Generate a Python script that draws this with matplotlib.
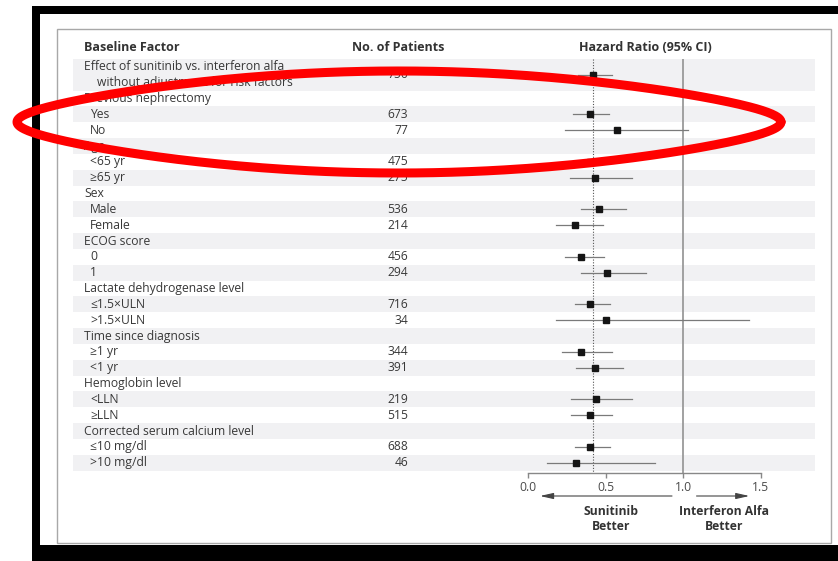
import matplotlib
matplotlib.use("Agg")
import matplotlib.pyplot as plt
import numpy as np
from matplotlib.patches import Rectangle
from matplotlib.transforms import blended_transform_factory

plt.rcParams['font.family'] = ['Open Sans', 'DejaVu Sans']

# subgroup table: None in n_patients marks a group heading row
labels = [
    "Effect of sunitinib vs. interferon alfa",
    "Previous nephrectomy", "Yes", "No",
    "Age", "<65 yr", "≥65 yr",
    "Sex", "Male", "Female",
    "ECOG score", "0", "1",
    "Lactate dehydrogenase level", "≤1.5×ULN", ">1.5×ULN",
    "Time since diagnosis", "≥1 yr", "<1 yr",
    "Hemoglobin level", "<LLN", "≥LLN",
    "Corrected serum calcium level", "≤10 mg/dl", ">10 mg/dl",
]
n_patients = [750, None, 673, 77, None, 475, 275, None, 536, 214, None, 456, 294,
              None, 716, 34, None, 344, 391, None, 219, 515, None, 688, 46]
hr = [0.42, None, 0.40, 0.57, None, 0.40, 0.43, None, 0.46, 0.30, None, 0.34, 0.51,
      None, 0.40, 0.50, None, 0.34, 0.43, None, 0.44, 0.40, None, 0.40, 0.31]
ci_low = [0.32, None, 0.29, 0.24, None, 0.30, 0.27, None, 0.34, 0.18, None, 0.24, 0.34,
          None, 0.30, 0.18, None, 0.22, 0.31, None, 0.28, 0.28, None, 0.30, 0.12]
ci_high = [0.54, None, 0.52, 1.03, None, 0.53, 0.67, None, 0.63, 0.48, None, 0.49, 0.76,
           None, 0.53, 1.42, None, 0.54, 0.61, None, 0.67, 0.54, None, 0.53, 0.82]
sub_line = "without adjustment for risk factors"
x_ticks = [0.0, 0.5, 1.0, 1.5]

W, H = 838, 561
fig = plt.figure(figsize=(W / 100, H / 100), dpi=100)

fs = 8.7
text_col = '#383838'
head_col = '#333333'

# forest panel: 0 -> 528 px, 1.5 -> 761 px
px_per_unit = (761 - 528) / 1.5
left_px, right_px, top_px, bot_px = 73, 815, 59, 473
row_px = 15.83
ax = fig.add_axes([left_px / W, 1 - bot_px / H, (right_px - left_px) / W, (bot_px - top_px) / H])
ax.set_xlim((left_px - 528) / px_per_unit, (right_px - 528) / px_per_unit)
ax.set_ylim((bot_px - top_px) / row_px, 0)

# row centres: first row is two lines tall
centres = [1.0] + [i + 1.5 for i in range(1, len(labels))]
spans = [(0, 2)] + [(i + 1, i + 2) for i in range(1, len(labels))]

fx = lambda px: px / W
tr = blended_transform_factory(fig.transFigure, ax.transData)

for i, (lab, n) in enumerate(zip(labels, n_patients)):
    if i % 2 == 0:
        ax.axhspan(spans[i][0], spans[i][1], color='#f1f1f3', lw=0, zorder=0)
    if i == 0:
        ax.text(fx(84), 0.5, lab, transform=tr, va='center', ha='left', fontsize=fs, color=text_col)
        ax.text(fx(97), 1.5, sub_line, transform=tr, va='center', ha='left', fontsize=fs, color=text_col)
    else:
        x = 84 if n is None else 90
        ax.text(fx(x), centres[i], lab, transform=tr, va='center', ha='left', fontsize=fs, color=text_col)
    if n is not None:
        ax.text(fx(408), centres[i], str(n), transform=tr, va='center', ha='right', fontsize=fs, color=text_col)

# reference lines
ax.plot([1.0, 1.0], [0, (bot_px - top_px) / row_px], color='#9a9a9a', lw=1.3, zorder=1)
ax.plot([hr[0], hr[0]], [0, (bot_px - top_px) / row_px], color='#555555', lw=0.8,
        ls=(0, (1, 1.5)), zorder=1)

for i in range(len(labels)):
    if hr[i] is None:
        continue
    ax.plot([ci_low[i], ci_high[i]], [centres[i], centres[i]], color='#7a7a7a', lw=0.9, zorder=2)
    ax.plot(hr[i], centres[i], marker='s', ms=4.5, color='#151515', zorder=3)

for s in ['left', 'right', 'top']:
    ax.spines[s].set_visible(False)
ax.spines['bottom'].set_bounds(0, 1.5)
ax.spines['bottom'].set_color('#888888')
ax.spines['bottom'].set_linewidth(1)
ax.set_xticks(x_ticks)
ax.set_xticklabels([f"{t:.1f}" for t in x_ticks], fontsize=fs, color='#4a4a4a')
ax.tick_params(axis='x', direction='out', length=3.5, width=1, color='#888888', pad=2)
ax.set_yticks([])
ax.patch.set_alpha(0)

# column headings
ax.text(fx(84), -0.7, "Baseline Factor", transform=tr, ha='left', va='center',
        fontsize=9, fontweight='bold', color=head_col, clip_on=False)
ax.text(fx(398), -0.7, "No. of Patients", transform=tr, ha='center', va='center',
        fontsize=9, fontweight='bold', color=head_col, clip_on=False)
ax.text(0.753, -0.7, "Hazard Ratio (95% CI)", ha='center', va='center',
        fontsize=9, fontweight='bold', color=head_col, clip_on=False)

# direction arrows and captions
y_arrow = (496 - top_px) / row_px
arrow_kw = dict(arrowstyle='-|>,head_length=0.8,head_width=0.18', color='#444444', lw=0.8,
                shrinkA=0, shrinkB=0)
ax.annotate("", xy=(0.077, y_arrow), xytext=(0.927, y_arrow), arrowprops=arrow_kw,
            annotation_clip=False)
ax.annotate("", xy=(1.425, y_arrow), xytext=(1.085, y_arrow), arrowprops=arrow_kw,
            annotation_clip=False)
y_cap = (519 - top_px) / row_px
ax.text(0.532, y_cap, "Sunitinib\nBetter", ha='center', va='center', fontsize=fs,
        fontweight='bold', color=head_col, linespacing=1.15, clip_on=False)
ax.text(1.262, y_cap, "Interferon Alfa\nBetter", ha='center', va='center', fontsize=fs,
        fontweight='bold', color=head_col, linespacing=1.15, clip_on=False)

# overlay in pixel units: frame, border box and the red highlight ring
ov = fig.add_axes([0, 0, 1, 1], zorder=10)
ov.set_xlim(0, W)
ov.set_ylim(H, 0)
ov.axis('off')
ov.patch.set_alpha(0)
ov.add_patch(Rectangle((57, 29), 831 - 57, 543 - 29, fill=False, ec='#a8a8a8', lw=1))
ov.add_patch(Rectangle((32, 6), 8, H - 6, color='black', lw=0))
ov.add_patch(Rectangle((32, 6), W - 32, 8, color='black', lw=0))
ov.add_patch(Rectangle((32, 545), W - 32, H - 545, color='black', lw=0))

theta = np.linspace(0, 2 * np.pi, 400)
cx, cy, a, b = 399, 122, 382, 51
ex = cx + a * np.cos(theta)
ey = cy + b * np.sin(theta) * (1 - 0.3 * np.cos(theta) ** 2)
ov.plot(ex, ey, color='#ff0000', lw=6.5, solid_capstyle='round')

fig.savefig("out.png", dpi=100)
